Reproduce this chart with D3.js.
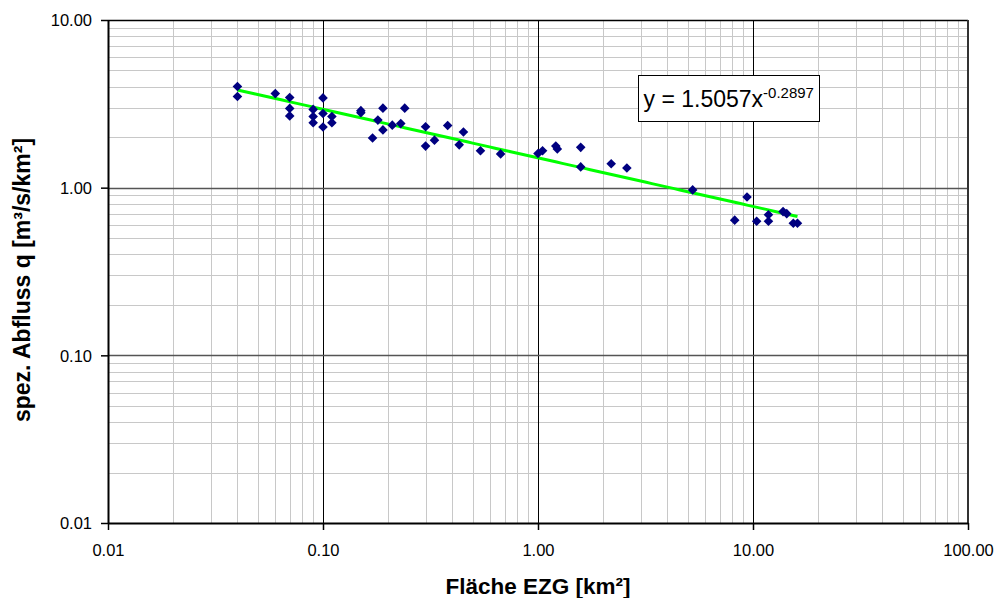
<!DOCTYPE html>
<html>
<head>
<meta charset="utf-8">
<script src="https://cdn.jsdelivr.net/npm/d3@7"></script>
<style>
  html, body { margin: 0; padding: 0; background: #fff; }
  svg { display: block; font-family: "Liberation Sans", Arial, sans-serif; }
</style>
</head>
<body>
<svg id="chart" width="996" height="598"></svg>
<script>
// Fläche EZG [km²]
const area = [0.04, 0.04, 0.06, 0.07, 0.07, 0.07, 0.09, 0.09, 0.09, 0.10, 0.10, 0.10,
  0.11, 0.11, 0.15, 0.15, 0.17, 0.18, 0.19, 0.19, 0.21, 0.23, 0.24, 0.30, 0.30,
  0.33, 0.38, 0.43, 0.45, 0.54, 0.67, 1.00, 1.05, 1.21, 1.23, 1.58, 1.58, 2.19,
  2.59, 5.24, 8.22, 9.38, 10.4, 11.8, 11.8, 13.8, 14.35, 15.4, 16.1];
// spez. Abfluss q [m³/s/km²]
const q = [4.01, 3.50, 3.64, 3.45, 2.97, 2.68, 2.93, 2.66, 2.44, 3.43, 2.77, 2.30,
  2.66, 2.44, 2.88, 2.80, 1.98, 2.53, 2.98, 2.21, 2.36, 2.41, 2.98, 2.31, 1.77,
  1.92, 2.35, 1.80, 2.15, 1.66, 1.59, 1.60, 1.66, 1.77, 1.70, 1.74, 1.33, 1.39,
  1.31, 0.97, 0.64, 0.88, 0.63, 0.69, 0.63, 0.72, 0.70, 0.613, 0.613];
const xTicks = [0.01, 0.1, 1, 10, 100];
const yTicks = [0.01, 0.1, 1, 10];
const trendA = 1.5057, trendB = -0.2897;
const trendLabel = "y = 1.5057x";
const trendExp = "-0.2897";

const svg = d3.select("#chart");
const L = 108, R = 968, T = 20, B = 523;
const x = d3.scaleLog().domain([0.01, 100]).range([L, R]);
const y = d3.scaleLog().domain([0.01, 10]).range([B, T]);

// minor values
const minorX = [], minorY = [];
for (let e = -2; e < 2; e++) for (let m = 2; m <= 9; m++) minorX.push(m * Math.pow(10, e));
for (let e = -2; e < 1; e++) for (let m = 2; m <= 9; m++) minorY.push(m * Math.pow(10, e));

const g = svg.append("g");
g.selectAll(".mx").data(minorX).enter().append("line")
  .attr("x1", d => Math.round(x(d)) + 0.5).attr("x2", d => Math.round(x(d)) + 0.5)
  .attr("y1", T).attr("y2", B).attr("stroke", "#c8c8c8").attr("stroke-width", 1);
g.selectAll(".my").data(minorY).enter().append("line")
  .attr("y1", d => Math.round(y(d)) + 0.5).attr("y2", d => Math.round(y(d)) + 0.5)
  .attr("x1", L).attr("x2", R).attr("stroke", "#c8c8c8").attr("stroke-width", 1);
g.selectAll(".Mx").data(xTicks.slice(1, -1)).enter().append("line")
  .attr("x1", d => Math.round(x(d)) + 0.5).attr("x2", d => Math.round(x(d)) + 0.5)
  .attr("y1", T).attr("y2", B).attr("stroke", "#000").attr("stroke-width", 1);
g.selectAll(".My").data(yTicks.slice(1, -1)).enter().append("line")
  .attr("y1", d => Math.round(y(d)) + 0.5).attr("y2", d => Math.round(y(d)) + 0.5)
  .attr("x1", L).attr("x2", R).attr("stroke", "#555").attr("stroke-width", 1.5);

// frame
svg.append("line").attr("x1", L).attr("x2", R).attr("y1", T + 0.5).attr("y2", T + 0.5)
  .attr("stroke", "#000").attr("stroke-width", 1.5);
svg.append("line").attr("x1", R).attr("x2", R).attr("y1", T).attr("y2", B)
  .attr("stroke", "#333").attr("stroke-width", 2);

// axes
const fmt = d3.format(".2f");
const xAxis = svg.append("g").attr("transform", `translate(0,${B})`)
  .call(d3.axisBottom(x).tickValues(xTicks).tickFormat(fmt).tickSizeInner(7).tickSizeOuter(0));
const yAxis = svg.append("g").attr("transform", `translate(${L},0)`)
  .call(d3.axisLeft(y).tickValues(yTicks).tickFormat(fmt).tickSizeInner(7).tickSizeOuter(0));
[xAxis, yAxis].forEach(a => {
  a.select(".domain").attr("stroke", "#000").attr("stroke-width", 2);
  a.selectAll(".tick line").attr("stroke", "#000").attr("stroke-width", 1.5);
  a.selectAll("text").attr("font-size", 16.5).attr("fill", "#000")
    .attr("font-family", "'Liberation Sans', Arial, sans-serif");
});
xAxis.selectAll("text").attr("y", 33).attr("dy", 0);
yAxis.selectAll("text").attr("x", -16).attr("dy", "0.35em");

// trendline
const tx = d3.range(0, 101).map(i => {
  const lo = Math.log10(d3.min(area)), hi = Math.log10(d3.max(area));
  return Math.pow(10, lo + (hi - lo) * i / 100);
});
svg.append("path")
  .datum(tx)
  .attr("fill", "none").attr("stroke", "#00ff00").attr("stroke-width", 3)
  .attr("d", d3.line().x(d => x(d)).y(d => y(trendA * Math.pow(d, trendB))));

// markers
const pts = area.map((a, i) => ({ a, q: q[i] }));
const h = 4.8;
svg.selectAll(".pt").data(pts).enter().append("path")
  .attr("transform", d => `translate(${x(d.a)},${y(d.q)})`)
  .attr("d", `M0,${-h}L${h},0L0,${h}L${-h},0Z`)
  .attr("fill", "#000080");

// equation box
const bx = 638.5, by = 75.5, bw = 181, bh = 46;
svg.append("rect").attr("x", bx).attr("y", by).attr("width", bw).attr("height", bh)
  .attr("fill", "#fff").attr("stroke", "#000").attr("stroke-width", 1);
const eq = svg.append("text").attr("x", bx + 5).attr("y", 107)
  .attr("font-size", 23).attr("fill", "#000");
eq.append("tspan").text(trendLabel);
eq.append("tspan").attr("dy", -9).attr("font-size", 15).text(trendExp);

// axis titles
svg.append("text").attr("x", 538).attr("y", 594).attr("text-anchor", "middle")
  .attr("font-size", 22.5).attr("font-weight", "bold").text("Fläche EZG [km²]");
svg.append("text").attr("transform", `translate(30,280) rotate(-90)`)
  .attr("text-anchor", "middle").attr("font-size", 23).attr("font-weight", "bold")
  .text("spez. Abfluss q [m³/s/km²]");
</script>
</body>
</html>
